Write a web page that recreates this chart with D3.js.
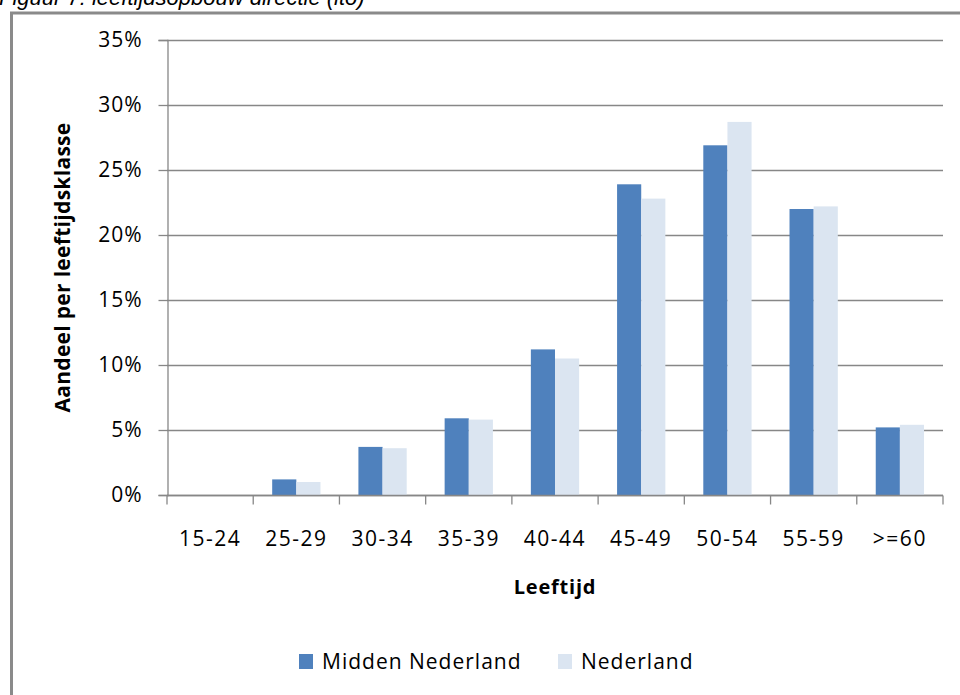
<!DOCTYPE html>
<html>
<head>
<meta charset="utf-8">
<script src="https://d3js.org/d3.v7.min.js"></script>
<style>
  body { margin: 0; background: #fff; }
  svg { display: block; }
</style>
</head>
<body>
<div id="chart"></div>
<script>
// Data (percent per age class)
const categories = ["15-24", "25-29", "30-34", "35-39", "40-44", "45-49", "50-54", "55-59", ">=60"];
const seriesNames = ["Midden Nederland", "Nederland"];
const middenNederland = [0, 1.2, 3.7, 5.9, 11.2, 23.9, 26.9, 22.0, 5.2];
const nederland = [0, 1.0, 3.6, 5.8, 10.5, 22.8, 28.7, 22.2, 5.4];
const yTicks = [0, 5, 10, 15, 20, 25, 30, 35];
const colors = ["#4f81bd", "#dbe5f1"];

const width = 960;
const height = 695;
const margin = { top: 40, right: 17, bottom: 200, left: 167 };
const font = "'Open Sans', sans-serif";

const svg = d3.select("#chart")
  .append("svg")
  .attr("width", width)
  .attr("height", height);

// outer frame (only top and left edges fall inside the picture)
svg.append("path")
  .attr("d", "M11.5,700 V13 H970")
  .attr("fill", "none")
  .attr("stroke", "#8a8a8a")
  .attr("stroke-width", 3);

// caption above the frame, cut off at the top like in the original
svg.append("text")
  .attr("x", -1)
  .attr("y", 5)
  .attr("font-family", "'Liberation Sans', Arial, sans-serif")
  .attr("font-style", "italic")
  .attr("font-size", 22)
  .attr("fill", "#000")
  .text("Figuur 7: leeftijdsopbouw directie (ito)");

const x0 = d3.scaleBand()
  .domain(categories)
  .range([margin.left, width - margin.right])
  .padding(0);

const x1 = d3.scaleBand()
  .domain(seriesNames)
  .range([x0.bandwidth() * 0.22, x0.bandwidth() * 0.78])
  .padding(0);

const y = d3.scaleLinear()
  .domain([0, 35])
  .range([height - margin.bottom, margin.top]);

// gridlines
svg.append("g")
  .selectAll("line")
  .data(yTicks)
  .join("line")
  .attr("x1", margin.left)
  .attr("x2", width - margin.right)
  .attr("y1", d => Math.round(y(d)) + 0.5)
  .attr("y2", d => Math.round(y(d)) + 0.5)
  .attr("stroke", "#878787")
  .attr("stroke-width", 1.3);

// bars
const rows = categories.map((c, i) => ({ cat: c, values: [middenNederland[i], nederland[i]] }));

svg.append("g")
  .selectAll("g")
  .data(rows)
  .join("g")
  .attr("transform", d => `translate(${x0(d.cat)},0)`)
  .selectAll("rect")
  .data(d => d.values.map((v, j) => ({ name: seriesNames[j], value: v, idx: j })))
  .join("rect")
  .attr("x", d => x1(d.name))
  .attr("width", x1.bandwidth())
  .attr("y", d => y(d.value))
  .attr("height", d => y(0) - y(d.value))
  .attr("fill", d => colors[d.idx]);

// y axis
const yAxis = svg.append("g")
  .attr("transform", `translate(${margin.left + 0.5},0)`)
  .call(d3.axisLeft(y).tickValues(yTicks).tickSize(9).tickPadding(16).tickFormat(d => d + "%"));
yAxis.select(".domain").attr("stroke", "#878787").attr("stroke-width", 1.3);
yAxis.selectAll(".tick line").attr("stroke", "#878787").attr("stroke-width", 1.3);
yAxis.selectAll(".tick text")
  .attr("font-family", font)
  .attr("font-size", 21)
  .attr("letter-spacing", 1.0)
  .attr("fill", "#000");

// x axis: ticks at category boundaries
const xAxisG = svg.append("g")
  .attr("transform", `translate(0,${y(0) + 0.5})`);
xAxisG.append("line")
  .attr("x1", margin.left)
  .attr("x2", width - margin.right)
  .attr("stroke", "#878787")
  .attr("stroke-width", 1.3);
xAxisG.selectAll(".bound")
  .data(categories.concat(["end"]))
  .join("line")
  .attr("class", "bound")
  .attr("x1", (d, i) => margin.left + i * x0.step())
  .attr("x2", (d, i) => margin.left + i * x0.step())
  .attr("y1", 0)
  .attr("y2", 9)
  .attr("stroke", "#878787")
  .attr("stroke-width", 1.3);
xAxisG.selectAll(".lbl")
  .data(categories)
  .join("text")
  .attr("class", "lbl")
  .attr("x", d => x0(d) + x0.bandwidth() / 2)
  .attr("y", 50)
  .attr("text-anchor", "middle")
  .attr("font-family", font)
  .attr("font-size", 21)
  .attr("letter-spacing", 1.5)
  .attr("fill", "#000")
  .text(d => d);

// axis titles
svg.append("text")
  .attr("x", (margin.left + width - margin.right) / 2)
  .attr("y", 594)
  .attr("text-anchor", "middle")
  .attr("font-family", font)
  .attr("font-weight", "bold")
  .attr("font-size", 20)
  .attr("letter-spacing", 0.8)
  .attr("fill", "#000")
  .text("Leeftijd");

svg.append("text")
  .attr("transform", `translate(70,${(y(0) + y(35)) / 2}) rotate(-90)`)
  .attr("text-anchor", "middle")
  .attr("font-family", font)
  .attr("font-weight", "bold")
  .attr("font-size", 21)
  .attr("letter-spacing", 0.3)
  .attr("fill", "#000")
  .text("Aandeel per leeftijdsklasse");

// legend
const legendX = [299, 558];
const legend = svg.append("g")
  .selectAll("g")
  .data(seriesNames)
  .join("g")
  .attr("transform", (d, i) => `translate(${legendX[i]},654)`);
legend.append("rect")
  .attr("width", 14)
  .attr("height", 15)
  .attr("fill", (d, i) => colors[i]);
legend.append("text")
  .attr("x", 23)
  .attr("y", 15)
  .attr("font-family", font)
  .attr("font-size", 21)
  .attr("letter-spacing", 1.0)
  .attr("fill", "#000")
  .text(d => d);
</script>
</body>
</html>
